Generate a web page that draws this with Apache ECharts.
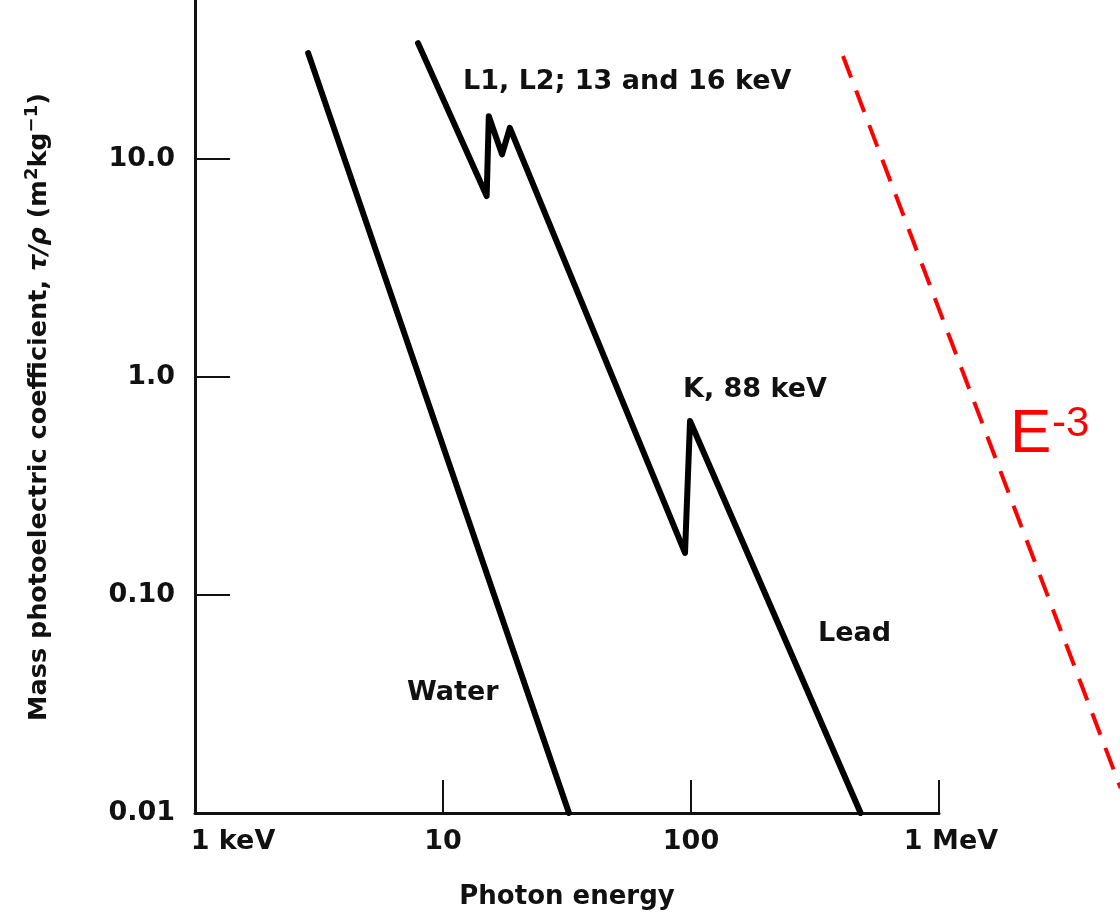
<!DOCTYPE html>
<html><head><meta charset="utf-8">
<script src="https://cdn.jsdelivr.net/npm/echarts@6/dist/echarts.min.js"></script>
<style>html,body{margin:0;padding:0;background:#fff}#c{width:1120px;height:913px}</style>
</head><body><div id="c"></div>
<script>
// ---- data (energies in keV, coefficients in m^2 kg^-1) ----
const waterEnergy = [2.86, 32.2];
const waterCoef   = [30.6, 0.01];
const leadEnergy  = [7.93, 15.0, 15.3, 17.3, 18.6, 94.6, 99.1, 483];
const leadCoef    = [34.0, 6.76, 15.7, 10.5, 13.9, 0.156, 0.628, 0.01];
const powerLawEnergy = [410, 5400];
const powerLawCoef   = [29.7, 0.013];
const xTickLabels = ['1 keV', '10', '100', '1 MeV'];      // 10^0 .. 10^3 keV
const yTickLabels = ['0.01', '0.10', '1.0', '10.0', ''];  // 10^-2 .. 10^2
const xTitle = 'Photon energy';
const annotations = {
  edgesL: 'L1, L2; 13 and 16 keV',
  edgeK: 'K, 88 keV',
  water: 'Water',
  lead: 'Lead'
};

const FONT = '"DejaVu Sans", sans-serif';
const ink = '#111';
const chart = echarts.init(document.getElementById('c'), null, {renderer: 'canvas'});
const pairs = (xs, ys) => xs.map((x, i) => [x, ys[i]]);
const exp10 = v => Math.round(Math.log10(v));

chart.setOption({
  animation: false,
  backgroundColor: '#fff',
  grid: [
    {left: 195, right: 181, top: -59, bottom: 100, outerBoundsMode: 'none', containLabel: false},
    // same scale per decade, extended to the right (10^4 keV) for the E^-3 guide line
    {left: 195, right: -67, top: -59, bottom: 100, outerBoundsMode: 'none', containLabel: false}
  ],
  xAxis: [{
    type: 'log', logBase: 10, min: 1, max: 1000,
    axisLine: {show: true, lineStyle: {color: ink, width: 3}},
    axisTick: {show: true, inside: true, length: 33, lineStyle: {color: ink, width: 2}},
    splitLine: {show: false}, minorTick: {show: false},
    axisLabel: {
      margin: 15, color: ink, fontFamily: FONT, fontWeight: 'bold', fontSize: 27,
      formatter: v => {
        const e = exp10(v);
        if (e === 0) return '{lft|' + xTickLabels[0] + '}';
        if (e === 3) return '{rgt|' + xTickLabels[3] + '}';
        return xTickLabels[e] || '';
      },
      rich: {
        lft: {fontFamily: FONT, fontWeight: 'bold', fontSize: 27, color: ink, padding: [0, 0, 0, 76]},
        rgt: {fontFamily: FONT, fontWeight: 'bold', fontSize: 27, color: ink, padding: [0, 0, 0, 24]}
      }
    },
    name: xTitle, nameLocation: 'middle', nameGap: 71,
    nameTextStyle: {color: ink, fontFamily: FONT, fontWeight: 'bold', fontSize: 26}
  }, {
    gridIndex: 1, type: 'log', logBase: 10, min: 1, max: 10000, show: false
  }],
  yAxis: [{
    type: 'log', logBase: 10, min: 0.01, max: 100,
    axisLine: {show: true, lineStyle: {color: ink, width: 3}},
    axisTick: {show: true, inside: true, length: 35, lineStyle: {color: ink, width: 2}},
    splitLine: {show: false}, minorTick: {show: false},
    axisLabel: {
      margin: 20, color: ink, fontFamily: FONT, fontWeight: 'bold', fontSize: 27,
      formatter: v => yTickLabels[exp10(v) + 2] || ''
    },
    name: 'Mass photoelectric coefficient, {it|τ/ρ} (m{sup|2}kg{sup|−1})',
    nameLocation: 'middle', nameGap: 140,
    nameTextStyle: {
      color: ink, fontFamily: FONT, fontWeight: 'bold', fontSize: 25.5, lineHeight: 32,
      padding: [0, 60, 0, 0],
      rich: {
        it: {fontFamily: FONT, fontWeight: 'bold', fontStyle: 'italic', fontSize: 25.5, color: ink, lineHeight: 32},
        sup: {fontFamily: FONT, fontWeight: 'bold', fontSize: 18, color: ink, verticalAlign: 'top', lineHeight: 32, padding: [0, 0, 12, 0]}
      }
    }
  }, {
    gridIndex: 1, type: 'log', logBase: 10, min: 0.01, max: 100, show: false
  }],
  series: [
    {
      name: 'Water', type: 'line', data: pairs(waterEnergy, waterCoef),
      symbol: 'none', silent: true,
      lineStyle: {color: '#000', width: 6, cap: 'round', join: 'round'}
    },
    {
      name: 'Lead', type: 'line', data: pairs(leadEnergy, leadCoef),
      symbol: 'none', silent: true,
      lineStyle: {color: '#000', width: 6, cap: 'round', join: 'round'}
    },
    {
      name: 'E^-3', type: 'line', xAxisIndex: 1, yAxisIndex: 1,
      data: pairs(powerLawEnergy, powerLawCoef),
      symbol: 'none', silent: true,
      lineStyle: {color: '#ff0000', width: 4, type: [23, 14]}
    }
  ],
  graphic: [
    {type: 'text', x: 463, y: 82, style: {text: annotations.edgesL, font: 'bold 27px ' + FONT, fill: ink, align: 'left', verticalAlign: 'middle'}},
    {type: 'text', x: 683, y: 390, style: {text: annotations.edgeK, font: 'bold 27px ' + FONT, fill: ink, align: 'left', verticalAlign: 'middle'}},
    {type: 'text', x: 407, y: 693, style: {text: annotations.water, font: 'bold 27px ' + FONT, fill: ink, align: 'left', verticalAlign: 'middle'}},
    {type: 'text', x: 818, y: 634, style: {text: annotations.lead, font: 'bold 27px ' + FONT, fill: ink, align: 'left', verticalAlign: 'middle'}},
    {type: 'text', x: 1010, y: 435, style: {text: 'E', font: '62px "Liberation Sans", Arial, sans-serif', fill: '#ff0000', align: 'left', verticalAlign: 'middle'}},
    {type: 'text', x: 1052, y: 424, style: {text: '-3', font: '42px "Liberation Sans", Arial, sans-serif', fill: '#ff0000', align: 'left', verticalAlign: 'middle'}}
  ]
});
</script>
</body></html>
